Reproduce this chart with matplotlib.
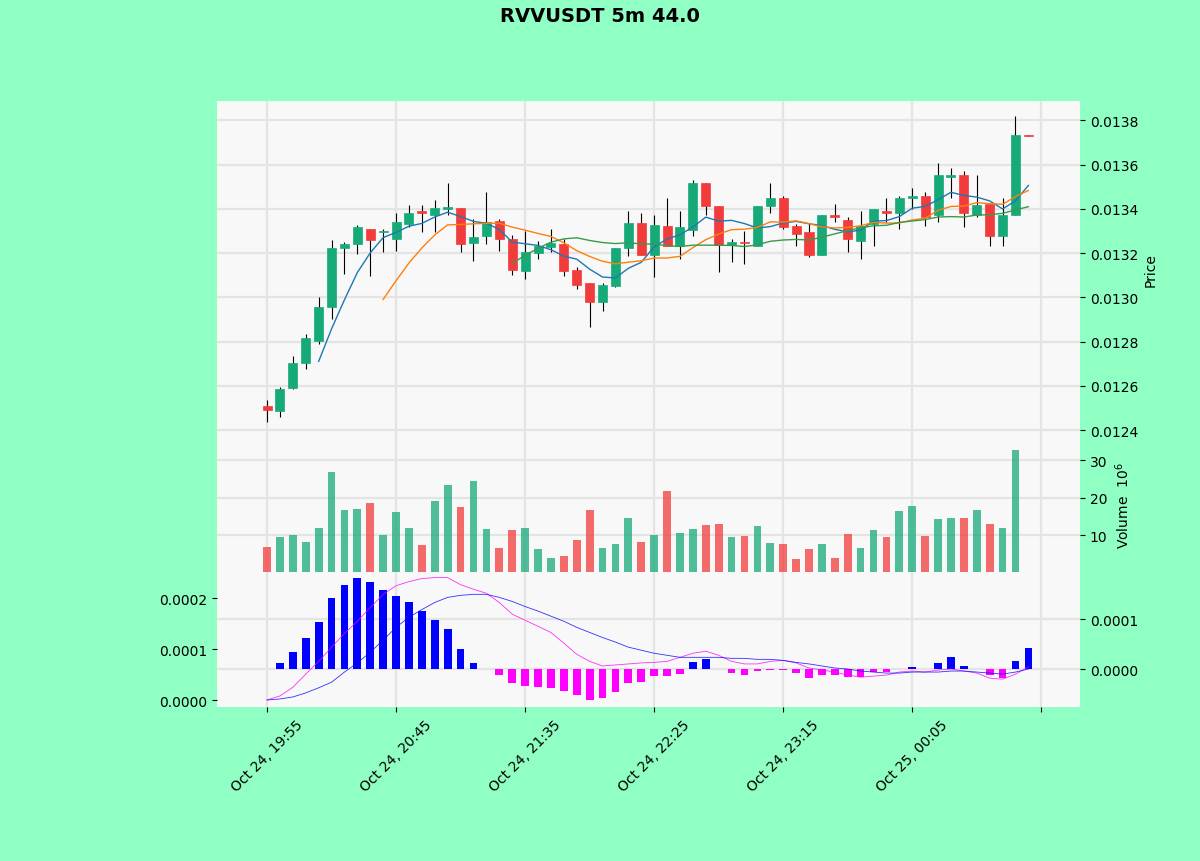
import matplotlib
matplotlib.use("Agg")
import matplotlib.pyplot as plt
from matplotlib.ticker import MultipleLocator, FormatStrFormatter, FixedLocator
import numpy as np
import pandas as pd

# ---- data ----
opens = [0.012509, 0.012486, 0.012590, 0.012704, 0.012803, 0.012957, 0.013225, 0.013243, 0.013311, 0.013297,
         0.013265, 0.013333, 0.013392, 0.013374, 0.013401, 0.013406, 0.013247, 0.013279, 0.013347, 0.013265,
         0.013120, 0.013202, 0.013229, 0.013243, 0.013125, 0.013066, 0.012980, 0.013052, 0.013225, 0.013338,
         0.013193, 0.013324, 0.013234, 0.013306, 0.013515, 0.013415, 0.013238, 0.013252, 0.013234, 0.013415,
         0.013451, 0.013324, 0.013297, 0.013193, 0.013370, 0.013351, 0.013256, 0.013333, 0.013392, 0.013379,
         0.013447, 0.013456, 0.013370, 0.013546, 0.013555, 0.013374, 0.013424, 0.013279, 0.013370, 0.013732]
highs = [0.012536, 0.012595, 0.012735, 0.012835, 0.013003, 0.013261, 0.013252, 0.013329, 0.013311, 0.013311,
         0.013383, 0.013419, 0.013419, 0.013438, 0.013515, 0.013406, 0.013356, 0.013478, 0.013356, 0.013283,
         0.013302, 0.013256, 0.013311, 0.013265, 0.013139, 0.013066, 0.013066, 0.013225, 0.013388, 0.013383,
         0.013370, 0.013447, 0.013388, 0.013528, 0.013515, 0.013415, 0.013265, 0.013302, 0.013415, 0.013515,
         0.013460, 0.013333, 0.013338, 0.013374, 0.013424, 0.013365, 0.013388, 0.013401, 0.013447, 0.013460,
         0.013492, 0.013478, 0.013605, 0.013583, 0.013569, 0.013551, 0.013424, 0.013447, 0.013818, 0.013732]
lows = [0.012436, 0.012459, 0.012586, 0.012676, 0.012790, 0.012903, 0.013107, 0.013197, 0.013098, 0.013206,
        0.013211, 0.013320, 0.013297, 0.013297, 0.013370, 0.013206, 0.013166, 0.013243, 0.013211, 0.013102,
        0.013084, 0.013175, 0.013206, 0.013098, 0.013039, 0.012867, 0.012939, 0.013048, 0.013188, 0.013193,
        0.013093, 0.013234, 0.013175, 0.013279, 0.013370, 0.013116, 0.013161, 0.013152, 0.013234, 0.013379,
        0.013311, 0.013234, 0.013184, 0.013193, 0.013342, 0.013206, 0.013175, 0.013234, 0.013342, 0.013311,
        0.013401, 0.013324, 0.013342, 0.013447, 0.013320, 0.013365, 0.013234, 0.013234, 0.013370, 0.013728]
closes = [0.012491, 0.012586, 0.012704, 0.012817, 0.012957, 0.013225, 0.013243, 0.013320, 0.013261, 0.013302,
          0.013342, 0.013383, 0.013383, 0.013406, 0.013410, 0.013243, 0.013274, 0.013342, 0.013265, 0.013125,
          0.013206, 0.013234, 0.013247, 0.013120, 0.013057, 0.012980, 0.013057, 0.013225, 0.013338, 0.013193,
          0.013329, 0.013234, 0.013320, 0.013515, 0.013415, 0.013238, 0.013252, 0.013247, 0.013415, 0.013447,
          0.013320, 0.013288, 0.013193, 0.013374, 0.013361, 0.013265, 0.013324, 0.013401, 0.013383, 0.013451,
          0.013456, 0.013365, 0.013551, 0.013551, 0.013379, 0.013419, 0.013279, 0.013370, 0.013732, 0.013728]
# volume in millions
volumes = [7.0, 9.4, 10.1, 8.2, 11.8, 26.7, 16.7, 17.1, 18.7, 10.1,
           16.2, 11.8, 7.5, 19.2, 23.4, 17.6, 24.3, 11.6, 6.5, 11.3,
           11.8, 6.3, 3.9, 4.6, 8.8, 16.8, 6.5, 7.8, 14.5, 8.3,
           10.1, 21.7, 10.6, 11.6, 12.8, 13.0, 9.6, 9.9, 12.5, 7.9,
           7.8, 3.8, 6.4, 7.8, 3.9, 10.3, 6.7, 11.3, 9.6, 16.4,
           17.7, 9.8, 14.3, 14.5, 14.5, 16.8, 13.0, 12.0, 32.7, 0.3]
macd_fast = [0.0, 0.000008, 0.000025, 0.000051, 0.000076, 0.000104, 0.000131, 0.000155, 0.000182, 0.000208,
             0.000225, 0.000233, 0.000239, 0.000241, 0.000241, 0.000227, 0.000218, 0.000210, 0.000192, 0.000169,
             0.000157, 0.000145, 0.000133, 0.000112, 0.000090, 0.000076, 0.000067, 0.000069, 0.000071, 0.000073,
             0.000074, 0.000076, 0.000084, 0.000092, 0.000096, 0.000088, 0.000076, 0.000071, 0.000071, 0.000076,
             0.000078, 0.000073, 0.000063, 0.000059, 0.000055, 0.000049, 0.000045, 0.000047, 0.000049, 0.000055,
             0.000057, 0.000055, 0.000059, 0.000061, 0.000057, 0.000053, 0.000043, 0.000041, 0.000051, 0.000065]
macd_slow = [0.0, 0.000002, 0.000006, 0.000014, 0.000024, 0.000035, 0.000055, 0.000073, 0.000094, 0.000118,
             0.000143, 0.000163, 0.000178, 0.000192, 0.000202, 0.000206, 0.000208, 0.000208, 0.000202, 0.000194,
             0.000184, 0.000175, 0.000165, 0.000155, 0.000143, 0.000133, 0.000123, 0.000114, 0.000104, 0.000098,
             0.000092, 0.000088, 0.000084, 0.000084, 0.000084, 0.000084, 0.000082, 0.000082, 0.000080, 0.000080,
             0.000078, 0.000074, 0.000071, 0.000067, 0.000063, 0.000061, 0.000057, 0.000055, 0.000053, 0.000053,
             0.000055, 0.000055, 0.000055, 0.000057, 0.000057, 0.000055, 0.000053, 0.000051, 0.000055, 0.000061]
macd_hist = [0.0, 0.000012, 0.000035, 0.000062, 0.000095, 0.000142, 0.000168, 0.000182, 0.000175, 0.000158,
             0.000147, 0.000134, 0.000117, 0.000099, 0.000080, 0.000040, 0.000012, 0.0, -0.000011, -0.000027,
             -0.000033, -0.000035, -0.000037, -0.000044, -0.000052, -0.000062, -0.000059, -0.000045, -0.000027, -0.000025,
             -0.000014, -0.000014, -0.000009, 0.000014, 0.000020, 0.0, -0.000007, -0.000012, -0.000004, -0.000002,
             -0.000002, -0.000008, -0.000018, -0.000012, -0.000011, -0.000015, -0.000015, -0.000005, -0.000005, 0.0,
             0.000005, 0.0, 0.000013, 0.000024, 0.000006, 0.0, -0.000012, -0.000017, 0.000016, 0.000043]
start_time = "2024-10-24 19:55"
title = "RVVUSDT 5m 44.0"
mav_periods = [5, 10, 20]

# ---- styling ----
bg = "#8fffc4"
face = "#f8f8f8"
grid_c = "#e4e4e4"
up_c = "#16aa79"
down_c = "#f23b3b"
mav_colors = ["#1f77b4", "#ff7f0e", "#3a9a4a"]

plt.rcParams.update({"font.size": 10, "font.family": "DejaVu Sans"})

n = len(closes)
x = np.arange(n)
o = np.array(opens); c = np.array(closes)
h = np.array(highs); l = np.array(lows)
up = c >= o
cols = np.where(up, up_c, down_c)

fig = plt.figure(figsize=(12, 8.62), dpi=100, facecolor=bg)
left, width = 0.1808, 0.7192
ax1 = fig.add_axes([left, 0.4912, width, 0.3905])
ax2 = fig.add_axes([left, 0.3347, width, 0.1565], sharex=ax1)
ax3 = fig.add_axes([left, 0.1787, width, 0.1560], sharex=ax1)

for ax in (ax1, ax2, ax3):
    ax.set_facecolor(face)
    ax.grid(True, color=grid_c, linewidth=1.6)
    ax.set_axisbelow(True)
    for s in ax.spines.values():
        s.set_visible(False)

# candles
ax1.vlines(x, l, h, color="black", linewidth=0.8, zorder=2)
body_bottom = np.minimum(o, c)
body_h = np.maximum(np.abs(c - o), 0.0000025)
ax1.bar(x, body_h, bottom=body_bottom, width=0.7, color=cols, edgecolor=cols, linewidth=0.5, zorder=3)

# moving averages
cs = pd.Series(closes)
for p, mc in zip(mav_periods, mav_colors):
    ax1.plot(x, cs.rolling(p).mean(), color=mc, linewidth=1.0, zorder=4)

ax1.yaxis.tick_right()
ax1.yaxis.set_label_position("right")
ax1.set_ylabel("Price")
ax1.yaxis.set_major_locator(MultipleLocator(0.0002))
ax1.yaxis.set_major_formatter(FormatStrFormatter("%.4f"))
pad = 0.05 * (h.max() - l.min())
ax1.set_ylim(l.min() - pad, h.max() + pad)
ax1.tick_params(axis="x", bottom=False, labelbottom=False)

# volume
vol = np.array(volumes)
ax2.bar(x, vol, width=0.6, color=cols, alpha=0.75, zorder=3)
ax2.yaxis.tick_right()
ax2.yaxis.set_label_position("right")
ax2.set_ylabel("Volume  $10^{6}$")
ax2.set_ylim(0.3 * vol.min(), 1.1 * vol.max())
ax2.yaxis.set_major_locator(FixedLocator([10, 20, 30]))
ax2.tick_params(axis="x", bottom=False, labelbottom=False)

# MACD: histogram on right scale, lines on left scale
hist = np.array(macd_hist)
hcols = np.where(hist >= 0, "blue", "magenta")
ax3.bar(x, hist, width=0.6, color=hcols, zorder=3)
ax3.set_ylim(-0.000076, 0.000194)
ax3.yaxis.set_major_locator(MultipleLocator(0.0001))
ax3.yaxis.set_major_formatter(FormatStrFormatter("%.4f"))

ax3l = ax3.twinx()
ax3.yaxis.tick_right()
ax3l.yaxis.tick_left()
ax3l.plot(x, macd_fast, color="magenta", linewidth=0.6, alpha=0.8)
ax3l.plot(x, macd_slow, color="blue", linewidth=0.6, alpha=0.8)
ax3l.set_ylim(-0.0000137, 0.000251)
ax3l.yaxis.set_major_locator(MultipleLocator(0.0001))
ax3l.yaxis.set_major_formatter(FormatStrFormatter("%.4f"))
for s in ax3l.spines.values():
    s.set_visible(False)

# x axis: dates every 10 bars
times = pd.date_range(start_time, periods=n + 1, freq="5min")
tick_pos = list(range(0, n + 1, 10))
tick_lab = [times[i].strftime("%b %d, %H:%M") if i < n else "" for i in tick_pos]
ax3.set_xticks(tick_pos)
ax3.set_xticklabels(tick_lab, rotation=45)
ax1.set_xlim(-3.88, 63.0)

fig.suptitle(title, fontweight="bold", fontsize=14, y=0.992)

fig.savefig("out.png", dpi=100, facecolor=bg)
